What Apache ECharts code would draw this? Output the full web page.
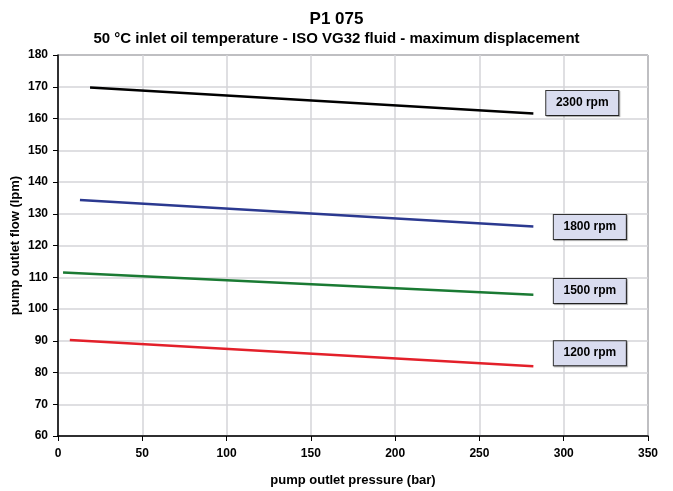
<!DOCTYPE html>
<html>
<head>
<meta charset="utf-8">
<script src="https://cdn.jsdelivr.net/npm/echarts@6/dist/echarts.min.js"></script>
<style>
  html, body { margin: 0; padding: 0; background: #fff; }
  #chart { width: 673px; height: 491px; }
</style>
</head>
<body>
<div id="chart"></div>
<script>
// line endpoints: [pressure (bar), flow (lpm)]
const rpm2300 = [[19, 169.8], [282, 161.6]];
const rpm1800 = [[13, 134.3], [282, 126.0]];
const rpm1500 = [[3, 111.5], [282, 104.5]];
const rpm1200 = [[7, 90.2], [282, 82.0]];

const labelNames = ['2300 rpm', '1800 rpm', '1500 rpm', '1200 rpm'];
const labelPos = [[311, 164.9], [315.5, 125.8], [315.5, 105.7], [315.5, 86.1]];
const lineColors = ['#000000', '#2b3990', '#1a7a33', '#e3202a'];

const font = 'Liberation Sans, Arial, sans-serif';

const myChart = echarts.init(document.getElementById('chart'));

const makeSeries = (name, data, idx) => ({
  name: name,
  type: 'line',
  data: data,
  symbol: 'none',
  lineStyle: { color: lineColors[idx], width: 2.5 },
  markPoint: {
    symbol: 'rect',
    symbolSize: 0,
    data: [{ coord: labelPos[idx], value: name }],
    label: {
      show: true,
      formatter: name,
      position: 'inside',
      color: '#000',
      fontFamily: font,
      fontWeight: 'bold',
      fontSize: 12,
      backgroundColor: '#d9dcef',
      borderColor: '#333',
      borderWidth: 1,
      width: 72,
      height: 24,
      lineHeight: 24,
      align: 'center',
      verticalAlign: 'middle',
      shadowColor: 'rgba(0,0,0,0.35)',
      shadowOffsetX: 1,
      shadowOffsetY: 1,
      shadowBlur: 1
    }
  }
});

const option = {
  animation: false,
  title: [
    {
      text: 'P1 075',
      left: 'center',
      top: 6,
      textStyle: { fontFamily: font, fontWeight: 'bold', fontSize: 17, color: '#000' }
    },
    {
      text: '50 °C inlet oil temperature - ISO VG32 fluid - maximum displacement',
      left: 'center',
      top: 26,
      textStyle: { fontFamily: font, fontWeight: 'bold', fontSize: 15, color: '#000' }
    }
  ],
  grid: {
    left: 58, right: 25, top: 55, bottom: 55,
    outerBoundsMode: 'none',
    show: true, borderColor: '#000', borderWidth: 1
  },
  xAxis: {
    type: 'value',
    min: 0,
    max: 350,
    interval: 50,
    name: 'pump outlet pressure (bar)',
    nameLocation: 'middle',
    nameGap: 38,
    nameMoveOverlap: false,
    nameTextStyle: { fontFamily: font, fontWeight: 'bold', fontSize: 13, color: '#000' },
    axisLine: { lineStyle: { color: '#000', width: 1.5 } },
    axisTick: { show: true, length: 5, lineStyle: { color: '#000' } },
    axisLabel: { fontFamily: font, fontWeight: 'bold', fontSize: 12, color: '#000', margin: 12 },
    splitLine: { lineStyle: { color: '#d4d4d8', width: 1.5 } }
  },
  yAxis: {
    type: 'value',
    min: 60,
    max: 180,
    interval: 10,
    name: 'pump outlet flow (lpm)',
    nameLocation: 'middle',
    nameGap: 36,
    nameMoveOverlap: false,
    nameTextStyle: { fontFamily: font, fontWeight: 'bold', fontSize: 13, color: '#000' },
    axisLine: { lineStyle: { color: '#000', width: 1.5 } },
    axisTick: { show: true, length: 5, lineStyle: { color: '#000' } },
    axisLabel: { fontFamily: font, fontWeight: 'bold', fontSize: 12, color: '#000', margin: 10 },
    splitLine: { lineStyle: { color: '#d4d4d8', width: 1.5 } }
  },
  series: [
    makeSeries(labelNames[0], rpm2300, 0),
    makeSeries(labelNames[1], rpm1800, 1),
    makeSeries(labelNames[2], rpm1500, 2),
    makeSeries(labelNames[3], rpm1200, 3)
  ]
};

myChart.setOption(option);
</script>
</body>
</html>
